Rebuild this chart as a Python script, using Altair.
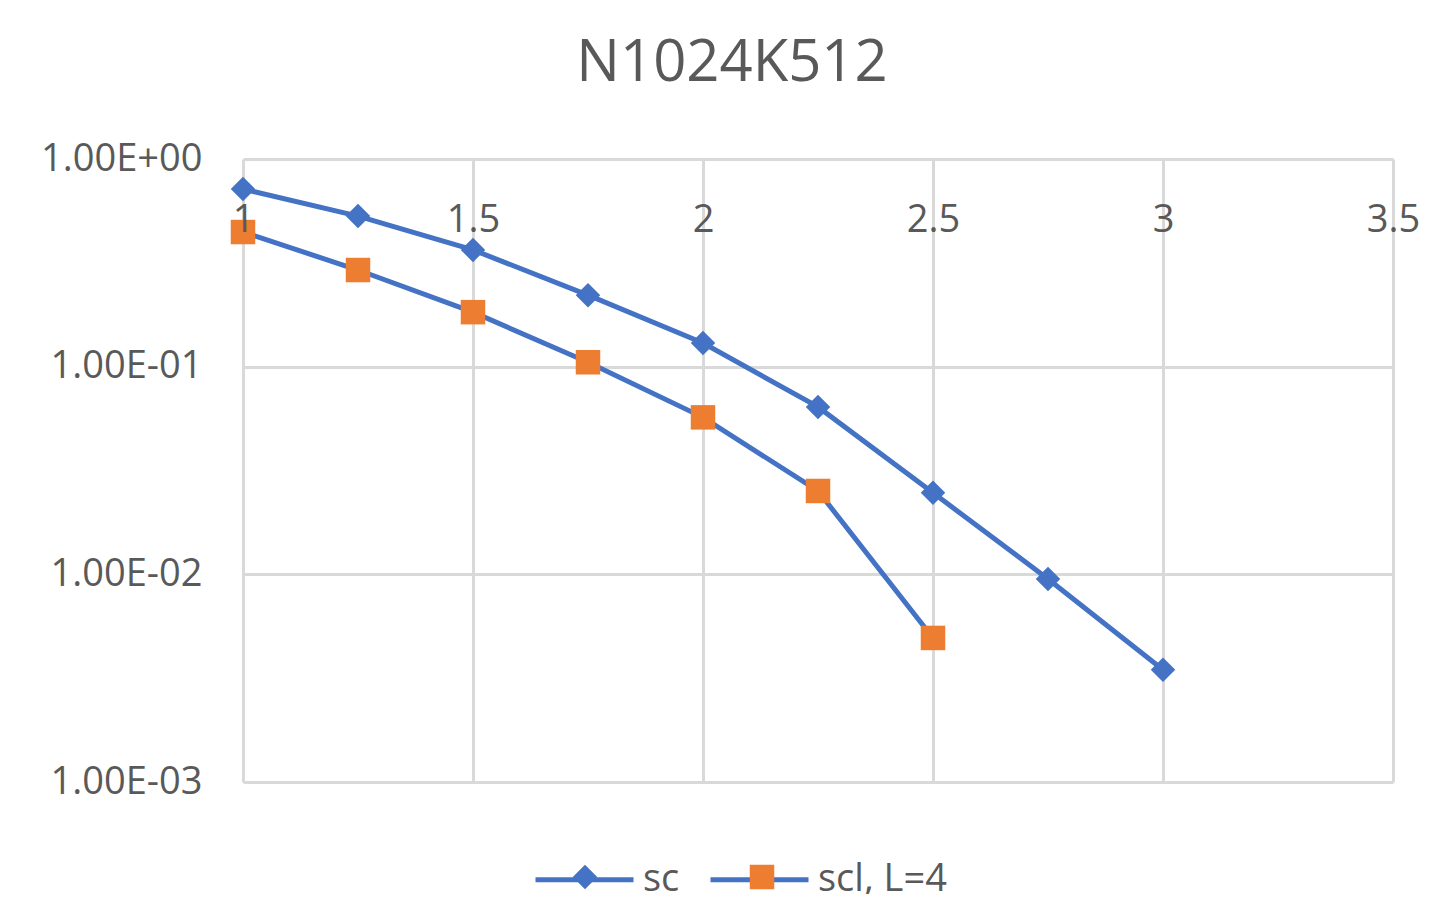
import altair as alt
import pandas as pd

title_text = "N1024K512"
series_names = ["sc", "scl, L=4"]

x_sc = [1, 1.25, 1.5, 1.75, 2, 2.25, 2.5, 2.75, 3]
y_sc = [0.717, 0.531, 0.365, 0.221, 0.130, 0.064, 0.0247, 0.0095, 0.00347]

x_scl = [1, 1.25, 1.5, 1.75, 2, 2.25, 2.5]
y_scl = [0.445, 0.292, 0.183, 0.105, 0.057, 0.0252, 0.00494]

x_ticks = [1, 1.5, 2, 2.5, 3, 3.5]
x_tick_labels = ["1", "1.5", "2", "2.5", "3", "3.5"]
y_ticks = [0.001, 0.01, 0.1, 1]
y_tick_labels = ["1.00E-03", "1.00E-02", "1.00E-01", "1.00E+00"]

BLUE = "#4472C4"
ORANGE = "#ED7D31"
TEXT = "#595959"
GRID = "#d9d9d9"
FONT = "Open Sans"

rows = []
for x, y in zip(x_sc, y_sc):
    rows.append({"x": x, "y": y, "series": series_names[0], "line_series": series_names[0]})
for x, y in zip(x_scl, y_scl):
    rows.append({"x": x, "y": y, "series": series_names[1], "line_series": series_names[1]})
df = pd.DataFrame(rows)


def label_expr(values, labels):
    expr = "''"
    for v, lab in zip(values, labels):
        tol = abs(v) * 0.01
        expr = f"abs(datum.value - {v}) < {tol} ? '{lab}' : ({expr})"
    return expr


xs = alt.Scale(domain=[1, 3.5], nice=False, zero=False)
ys = alt.Scale(type="log", domain=[0.001, 1], nice=False)

grid_x_axis = alt.Axis(orient="top", values=x_ticks, labels=False, ticks=False,
                       domain=False, grid=True, gridColor=GRID, gridWidth=3,
                       title=None, zindex=0)
grid_y_axis = alt.Axis(orient="right", values=y_ticks, labels=False, ticks=False,
                       domain=False, grid=True, gridColor=GRID, gridWidth=3,
                       title=None, zindex=0)

label_x_axis = alt.Axis(orient="bottom", offset=-623, values=x_ticks,
                        labelExpr=label_expr(x_ticks, x_tick_labels),
                        labels=True, ticks=False, domain=False, grid=False,
                        labelPadding=42, labelFontSize=38, labelFont=FONT,
                        labelColor=TEXT, labelFlush=False, labelOverlap=False,
                        title=None, zindex=1)
label_y_axis = alt.Axis(orient="left", values=y_ticks,
                        labelExpr=label_expr(y_ticks, y_tick_labels),
                        labels=True, ticks=False, domain=False, grid=False,
                        labelPadding=41, labelFontSize=38, labelFont=FONT,
                        labelColor=TEXT, labelFlush=False, labelOverlap=False,
                        title=None, zindex=1)

line_legend = alt.Legend(orient="none", legendX=290, legendY=669,
                         direction="horizontal", title=None, padding=0,
                         symbolType="stroke", symbolSize=9604,
                         symbolStrokeWidth=5, labelOffset=7,
                         labelFontSize=38, labelFont=FONT, labelColor=TEXT,
                         labelLimit=400, columnPadding=20, zindex=0)
point_legend = alt.Legend(orient="none", legendX=323, legendY=699,
                          direction="horizontal", title=None, padding=0,
                          symbolSize=600, symbolStrokeWidth=0,
                          symbolOpacity=1, labelOffset=0, labelExpr="''",
                          labelFontSize=38, labelFont=FONT, labelColor=TEXT,
                          labelLimit=400, columnPadding=139,
                          zindex=1)

lines = alt.Chart(df).mark_line(strokeWidth=5).encode(
    x=alt.X("x:Q", scale=xs, axis=grid_x_axis),
    y=alt.Y("y:Q", scale=ys, axis=grid_y_axis),
    stroke=alt.Stroke("line_series:N", scale=alt.Scale(range=[BLUE, BLUE]),
                      legend=line_legend),
)

points = alt.Chart(df).mark_point(filled=True, opacity=1, strokeWidth=0, size=600).encode(
    x=alt.X("x:Q", scale=xs, axis=label_x_axis),
    y=alt.Y("y:Q", scale=ys, axis=label_y_axis),
    fill=alt.Fill("series:N", scale=alt.Scale(range=[BLUE, ORANGE]),
                  legend=point_legend),
    shape=alt.Shape("series:N", scale=alt.Scale(range=["diamond", "square"]),
                    legend=point_legend),
)

chart = alt.layer(lines, points).resolve_axis(
    x="independent", y="independent"
).properties(
    width=1150,
    height=623,
    autosize=alt.AutoSizeParams(type="none"),
    padding={"left": 235, "top": 151, "right": 31, "bottom": 112},
    title=alt.TitleParams(text=title_text, font=FONT, fontSize=58,
                          fontWeight="normal", color=TEXT, anchor="middle",
                          frame="group", dx=-86, dy=57, baseline="alphabetic",
                          offset=58),
    background="white",
).configure_view(stroke="transparent")

chart.save("out.html", embed_options={"renderer": "svg", "actions": False})
